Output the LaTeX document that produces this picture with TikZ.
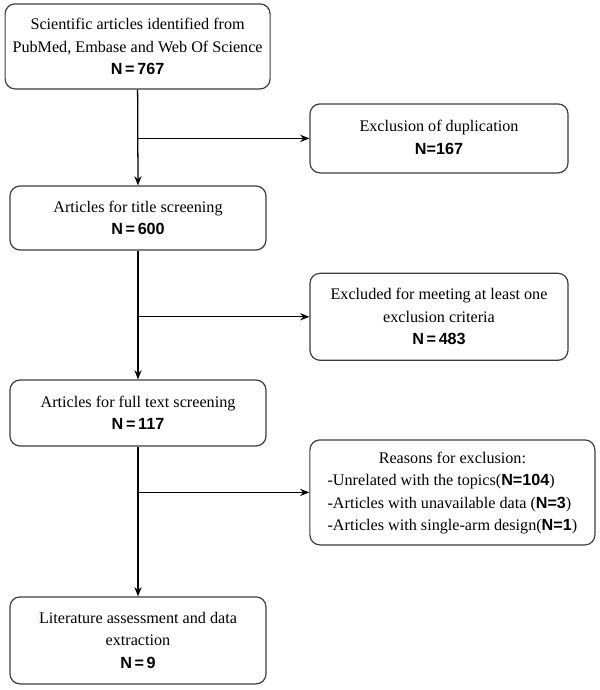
\documentclass[tikz,border=0pt]{standalone}
\usepackage{fontspec}
\setmainfont{Liberation Serif}
\setsansfont{Liberation Sans}
\usetikzlibrary{arrows.meta, positioning}
\definecolor{boxline}{RGB}{60,60,60}
\newcommand{\Nval}[1]{\textsf{\textbf{#1}}}

\begin{document}
\begin{tikzpicture}[
    box/.style={draw=boxline, line width=0.85pt, rounded corners=0.25cm, align=center,
                font=\fontsize{11.5}{16}\selectfont, inner sep=0pt},
    flow/.style={-{Stealth[length=2.3mm,width=1.8mm]}, line width=0.9pt}
]
    \useasboundingbox (0,0) rectangle (15,-17.25);

    % Main boxes
    \node[box, minimum width=6.625cm, minimum height=2.125cm] (ident) at (3.44,-1.16)
        {Scientific articles identified from\\PubMed, Embase and Web Of Science\\\Nval{N\,=\,767}};
    \node[box, minimum width=6.4cm, minimum height=1.6cm] (title) at (3.45,-5.45)
        {Articles for title screening\\\Nval{N\,=\,600}};
    \node[box, minimum width=6.4cm, minimum height=1.65cm] (full) at (3.45,-10.325)
        {Articles for full text screening\\\Nval{N\,=\,117}};
    \node[box, minimum width=6.4cm, minimum height=2.175cm] (lit) at (3.45,-16.01)
        {Literature assessment and data\\extraction\\\Nval{N\,=\,9}};

    % Side boxes
    \node[box, minimum width=6.45cm, minimum height=1.725cm] (dup) at (10.975,-3.46)
        {\raisebox{4pt}{\begin{tabular}{@{}c@{}}Exclusion of duplication\\\Nval{N=167}\end{tabular}}};
    \node[box, minimum width=6.45cm, minimum height=2.175cm] (excl) at (10.975,-7.92)
        {Excluded for meeting at least one\\exclusion criteria\\\Nval{N\,=\,483}};
    \node[box, minimum width=7.125cm, minimum height=2.625cm] (reason) at (11.31,-12.31)
        {\begin{tabular}{@{}l@{}}
            \multicolumn{1}{@{}c@{}}{Reasons for exclusion:}\\
            -Unrelated with the topics(\Nval{N=104})\\
            -Articles with unavailable data (\Nval{N=3})\\
            -Articles with single-arm design(\Nval{N=1})
         \end{tabular}};

    % Arrows
    \draw[flow] (ident.south) -- (title.north);
    \draw[flow] (title.south) -- (full.north);
    \draw[flow] (full.south) -- (lit.north);
    \draw[flow] (ident.south |- dup.west) -- (dup.west);
    \draw[flow] (title.south |- excl.west) -- (excl.west);
    \draw[flow] (full.south |- reason.west) -- (reason.west);
\end{tikzpicture}
\end{document}
